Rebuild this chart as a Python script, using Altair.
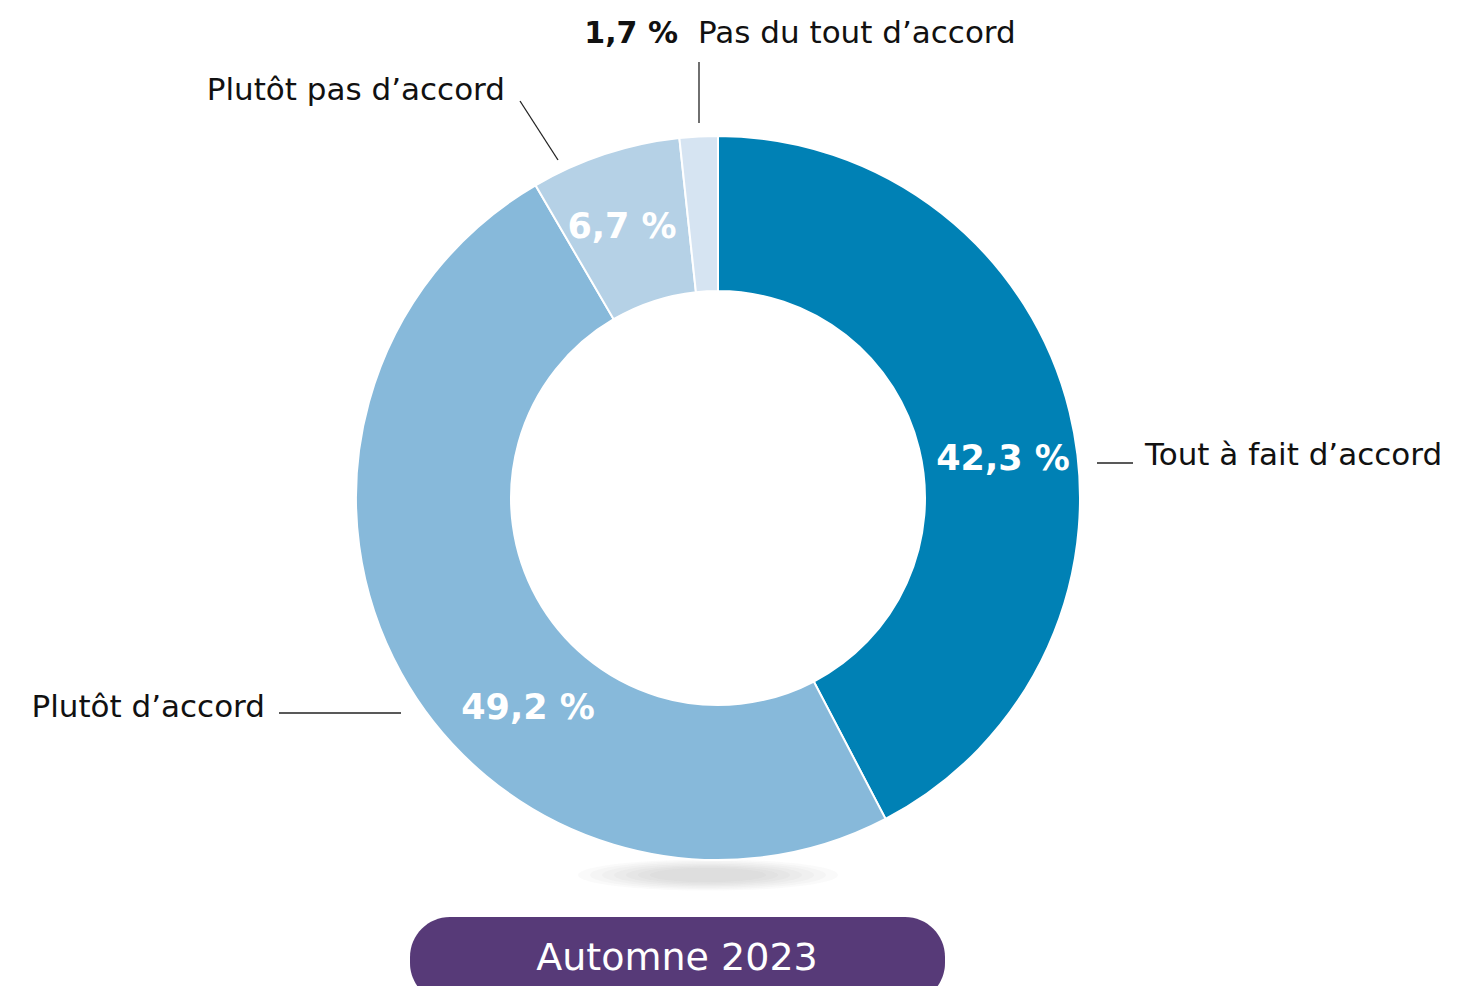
import altair as alt
import pandas as pd

W, H = 1447, 978

# slices (clockwise from 12 o'clock)
categories = ["Tout à fait d’accord", "Plutôt d’accord", "Plutôt pas d’accord", "Pas du tout d’accord"]
values = [42.3, 49.2, 6.7, 1.7]
pct_labels = ["42,3 %", "49,2 %", "6,7 %", "1,7 %"]
colors = ["#0081b5", "#87b9da", "#b5d1e6", "#d6e4f2"]

FONT = "DejaVu Sans"

slices = pd.DataFrame({"cat": categories, "value": values, "order": [0, 1, 2, 3]})

xs = alt.Scale(domain=[0, W], range=[0, W])
ys = alt.Scale(domain=[0, H], range=[0, H])

# soft elliptical shadow under donut: stacked translucent ellipses
ELLIPSE = "M-1,0 A1,0.12 0 1,0 1,0 A1,0.12 0 1,0 -1,0 Z"
shadow_half_widths = [130, 118, 106, 94, 82, 70, 58]
shadow = alt.Chart(pd.DataFrame({"x": [700] * 7, "y": [867] * 7,
                                 "s": [(2 * w) ** 2 for w in shadow_half_widths]})).mark_point(
    shape=ELLIPSE, filled=True, color="#8a8a8a", opacity=0.045, strokeWidth=0
).encode(x=alt.X("x:Q", scale=xs, axis=None), y=alt.Y("y:Q", scale=ys, axis=None),
         size=alt.Size("s:Q", scale=None, legend=None))

donut = alt.Chart(slices).mark_arc(radius=362, radius2=207, stroke="white", strokeWidth=2).encode(
    theta=alt.Theta("value:Q", stack=True),
    order=alt.Order("order:Q"),
    color=alt.Color("cat:N", scale=alt.Scale(domain=categories, range=colors), legend=None),
    x=alt.value(710), y=alt.value(490),
)

# inner percentage labels (white, bold)
inner = pd.DataFrame({"t": pct_labels[:3], "x": [995, 520, 614], "y": [451, 700, 219]})
inner_txt = alt.Chart(inner).mark_text(font=FONT, fontSize=35, fontWeight="bold", color="white",
                                       align="center", baseline="middle").encode(
    x=alt.X("x:Q", scale=xs, axis=None), y=alt.Y("y:Q", scale=ys, axis=None), text="t:N")

# outside category labels
left_lab = pd.DataFrame({"t": ["Plutôt pas d’accord", "Plutôt d’accord"], "x": [497, 257], "y": [83, 700]})
right_lab = pd.DataFrame({"t": ["Pas du tout d’accord", "Tout à fait d’accord"], "x": [690, 1137], "y": [26, 448]})
left_txt = alt.Chart(left_lab).mark_text(font=FONT, fontSize=31, color="#111111", align="right",
                                         baseline="middle").encode(
    x=alt.X("x:Q", scale=xs, axis=None), y=alt.Y("y:Q", scale=ys, axis=None), text="t:N")
right_txt = alt.Chart(right_lab).mark_text(font=FONT, fontSize=31, color="#111111", align="left",
                                           baseline="middle").encode(
    x=alt.X("x:Q", scale=xs, axis=None), y=alt.Y("y:Q", scale=ys, axis=None), text="t:N")
small_pct = alt.Chart(pd.DataFrame({"t": [pct_labels[3]], "x": [670], "y": [26]})).mark_text(
    font=FONT, fontSize=30, fontWeight="bold", color="#111111", align="right", baseline="middle").encode(
    x=alt.X("x:Q", scale=xs, axis=None), y=alt.Y("y:Q", scale=ys, axis=None), text="t:N")

# leader lines
leaders = pd.DataFrame({"x": [691, 512, 1089, 271], "y": [54, 93, 455, 705],
                        "x2": [691, 550, 1125, 393], "y2": [115, 152, 455, 705]})
lines = alt.Chart(leaders).mark_rule(color="#222222", strokeWidth=1.3).encode(
    x=alt.X("x:Q", scale=xs, axis=None), y=alt.Y("y:Q", scale=ys, axis=None), x2="x2:Q", y2="y2:Q")

# season pill
pill = alt.Chart(pd.DataFrame({"x": [402], "x2": [937], "y": [909], "y2": [995]})).mark_rect(
    color="#573a78", cornerRadius=40).encode(
    x=alt.X("x:Q", scale=xs, axis=None), x2="x2:Q", y=alt.Y("y:Q", scale=ys, axis=None), y2="y2:Q")
pill_txt = alt.Chart(pd.DataFrame({"t": ["Automne 2023"], "x": [669], "y": [951]})).mark_text(
    font=FONT, fontSize=38, color="white", align="center", baseline="middle").encode(
    x=alt.X("x:Q", scale=xs, axis=None), y=alt.Y("y:Q", scale=ys, axis=None), text="t:N")

chart = alt.layer(shadow, donut, inner_txt, left_txt, right_txt, small_pct, lines, pill, pill_txt).properties(
    width=W, height=H, padding=0, autosize=alt.AutoSizeParams(type="none")
).configure_view(stroke=None)

chart.save("out.html", embed_options={"renderer": "svg", "actions": False})
